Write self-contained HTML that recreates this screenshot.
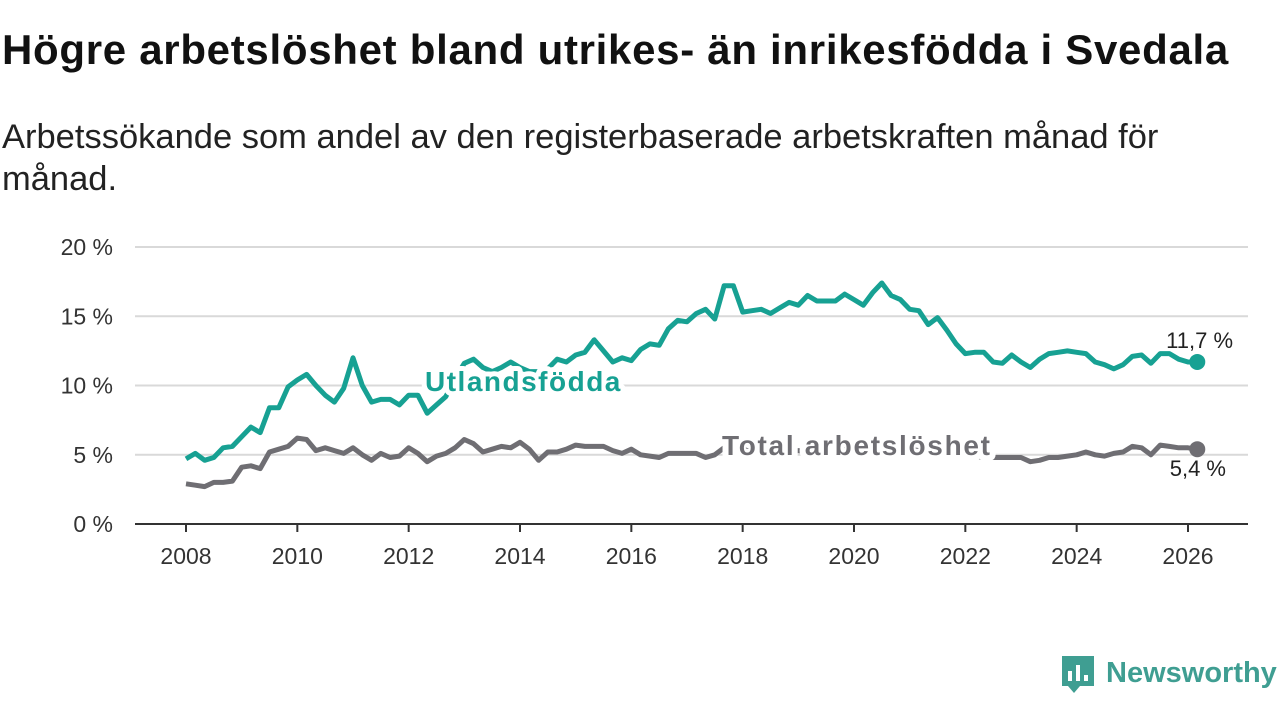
<!DOCTYPE html>
<html><head><meta charset="utf-8"><style>
body{margin:0;width:1280px;height:720px;background:#fff;font-family:"Liberation Sans",sans-serif;overflow:hidden;position:relative}
h1{position:absolute;left:2px;top:26px;margin:0;font-size:42px;font-weight:bold;color:#111;letter-spacing:0.7px;white-space:nowrap}
p{position:absolute;left:2px;top:116px;margin:0;font-size:34.5px;line-height:42px;color:#222;width:1200px}
svg{position:absolute;left:0;top:0}
</style></head><body>
<h1>Högre arbetslöshet bland utrikes- än inrikesfödda i Svedala</h1>
<p>Arbetssökande som andel av den registerbaserade arbetskraften månad för månad.</p>
<svg id="chart" width="1280" height="720"></svg>
<script>
const yTicks=[0,5,10,15,20];
const xTicks=[2008,2010,2012,2014,2016,2018,2020,2022,2024,2026];
const utlandsfodda=[4.7,5.1,4.6,4.8,5.5,5.6,6.3,7.0,6.6,8.4,8.4,9.9,10.4,10.8,10.0,9.3,8.8,9.8,12.0,10.0,8.8,9.0,9.0,8.6,9.3,9.3,8.0,8.6,9.2,10.5,11.6,11.9,11.3,11.0,11.3,11.7,11.3,11.0,11.0,11.2,11.9,11.7,12.2,12.4,13.3,12.5,11.7,12.0,11.8,12.6,13.0,12.9,14.1,14.7,14.6,15.2,15.5,14.8,17.2,17.2,15.3,15.4,15.5,15.2,15.6,16.0,15.8,16.5,16.1,16.1,16.1,16.6,16.2,15.8,16.7,17.4,16.5,16.2,15.5,15.4,14.4,14.9,14.0,13.0,12.3,12.4,12.4,11.7,11.6,12.2,11.7,11.3,11.9,12.3,12.4,12.5,12.4,12.3,11.7,11.5,11.2,11.5,12.1,12.2,11.6,12.3,12.3,11.9,11.7,11.7];
const total=[2.9,2.8,2.7,3.0,3.0,3.1,4.1,4.2,4.0,5.2,5.4,5.6,6.2,6.1,5.3,5.5,5.3,5.1,5.5,5.0,4.6,5.1,4.8,4.9,5.5,5.1,4.5,4.9,5.1,5.5,6.1,5.8,5.2,5.4,5.6,5.5,5.9,5.4,4.6,5.2,5.2,5.4,5.7,5.6,5.6,5.6,5.3,5.1,5.4,5.0,4.9,4.8,5.1,5.1,5.1,5.1,4.8,5.0,5.5,5.3,5.4,5.2,5.3,5.2,5.1,5.2,5.3,5.2,5.0,5.1,5.3,5.4,5.6,5.7,5.8,5.7,5.6,5.5,5.4,5.3,5.2,5.1,5.0,5.0,4.9,4.9,4.8,4.8,4.8,4.8,4.8,4.5,4.6,4.8,4.8,4.9,5.0,5.2,5.0,4.9,5.1,5.2,5.6,5.5,5.0,5.7,5.6,5.5,5.5,5.4];
const startYear=2008, step=1/6;
const NS='http://www.w3.org/2000/svg';
const svg=document.getElementById('chart');
const x=v=>186+(v-2008)*(1188-186)/18;
const y=v=>524-v*(524-247)/20;
function el(t,a,p){const e=document.createElementNS(NS,t);for(const k in a)e.setAttribute(k,a[k]);(p||svg).appendChild(e);return e;}
yTicks.forEach(t=>{
 if(t>0){const g=el('line',{x1:135,x2:1248,y1:y(t),y2:y(t),stroke:'#d9d9d9','stroke-width':2});
 
 }
 const l=el('text',{x:113,y:y(t)+8,'text-anchor':'end','font-size':23,fill:'#333'});l.textContent=t+' %';
 
 
});
const ax=el('line',{x1:135,x2:1248,y1:524,y2:524,stroke:'#333','stroke-width':2});


xTicks.forEach(t=>{
 el('line',{x1:x(t),x2:x(t),y1:524,y2:532,stroke:'#333','stroke-width':2});
 const l=el('text',{x:x(t),y:564,'text-anchor':'middle','font-size':23,fill:'#333'});l.textContent=t;
 
 
});
function series(data,color,name){
 const d=data.map((v,i)=>(i?'L':'M')+x(startYear+i*step).toFixed(1)+','+y(v).toFixed(1)).join('');
 const p=el('path',{d:d,fill:'none',stroke:color,'stroke-width':5,'stroke-linejoin':'round'});
 
 
 const last=data[data.length-1];
 const c=el('circle',{cx:x(startYear+(data.length-1)*step),cy:y(last),r:8,fill:color});
 
 
}
series(total,'#6f6e73','total');
series(utlandsfodda,'#17a193','utlandsfodda');
function label(txt,xx,yy,col,size,w,anchor,ls,halo,name){
 const t=el('text',{x:xx,y:yy,'font-size':size,'font-weight':w,fill:col,'text-anchor':anchor,'letter-spacing':ls,stroke:'#fff','stroke-width':halo,'paint-order':'stroke','stroke-linejoin':'round'});
 t.textContent=txt;
 
 
}
label('Utlandsfödda',425,391,'#17a193',28,'bold','start',1.5,10,'utlandsfodda-label');
label('Total arbetslöshet',722,455,'#6f6e73',28,'bold','start',1.7,12,'total-label');
label('11,7 %',1233,348,'#222',22,'normal','end',0,5,'utlandsfodda-end-value');
label('5,4 %',1226,476,'#222',22,'normal','end',0,5,'total-end-value');
const lg=el('g',{});


el('path',{d:'M1062,656 h32 v30 h-14 l-6,7 l-6,-7 h-6 z',fill:'#3f9e92'},lg);
el('rect',{x:1068,y:671,width:4,height:10,fill:'#fff'},lg);
el('rect',{x:1076,y:665,width:4,height:16,fill:'#fff'},lg);
el('rect',{x:1084,y:675,width:4,height:6,fill:'#fff'},lg);
const lt=el('text',{x:1106,y:682,'font-size':29,'font-weight':'bold',fill:'#3f9e92'},lg);lt.textContent='Newsworthy';
</script>
</body></html>
